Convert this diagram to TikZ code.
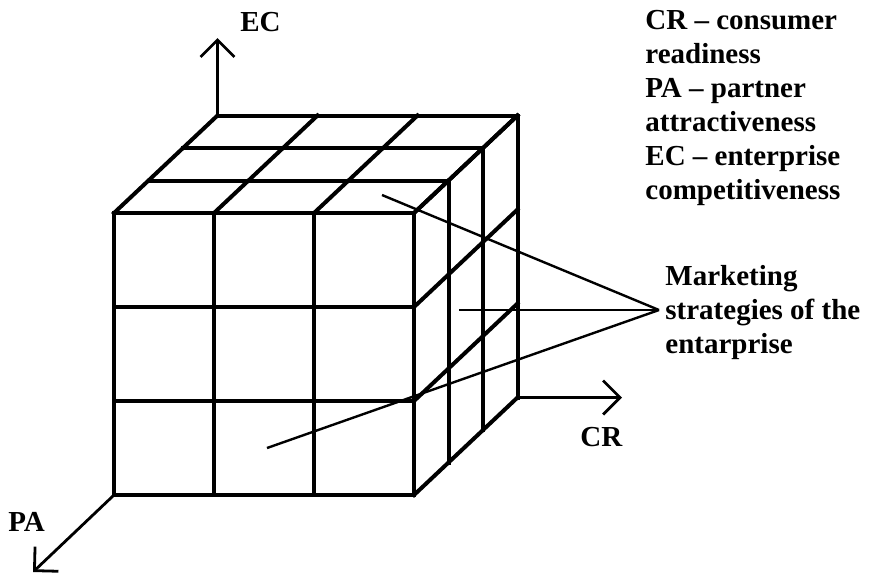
\documentclass[tikz,border=0pt]{standalone}
\usepackage{fontspec}
\setmainfont{Liberation Serif}
\usetikzlibrary{arrows.meta}

\tikzset{
  edge/.style={line width=2pt, line cap=rect},
  axis/.style={line width=1.4pt, -{Straight Barb[length=8.5pt,width=17pt]}},
  pointer/.style={line width=1.2pt},
  lbl/.style={inner sep=0pt, anchor=north west, align=left}
}

\begin{document}
\begin{tikzpicture}[x=0.5pt, y=-0.5pt, font=\fontsize{14.5}{17}\selectfont\bfseries]
  \useasboundingbox (0,0) rectangle (870,575);
  % front face
  \foreach \i in {0,...,3} {
    \draw[edge] (114+100*\i,213) -- (114+100*\i,495);
    \draw[edge] (114,213+94*\i) -- (414,213+94*\i);
  }
  % top face
  \foreach \k in {0,...,3} {
    \draw[edge] (114+100*\k,213) -- (217.5+100*\k,115.5);
    \draw[edge] (114+34.5*\k,213-32.5*\k) -- (414+34.5*\k,213-32.5*\k);
  }
  % right face
  \foreach \k in {0,...,3} {
    \draw[edge] (414,213+94*\k) -- (517.5,115.5+94*\k);
    \draw[edge] (414+34.5*\k,213-32.5*\k) -- (414+34.5*\k,495-32.5*\k);
  }
  % axes
  \coordinate (o1) at (217.5,115.5);
  \coordinate (o2) at (517.5,397.5);
  \coordinate (o3) at (114,495);
  \coordinate (ec) at (217.5,38);
  \coordinate (cr) at (622,397.5);
  \coordinate (pa) at (33,572);
  \draw[axis] (o1) -- (ec);
  \draw[axis] (o2) -- (cr);
  \draw[axis] (o3) -- (pa);
  \node[lbl] (lblEC) at (240,12) {EC};
  \node[lbl] (lblCR) at (580,427) {CR};
  \node[lbl] (lblPA) at (8,512) {PA};
  % legend
  \node[lbl] (legend) at (645,10) {CR -- consumer\\readiness\\PA -- partner\\attractiveness\\EC -- enterprise\\competitiveness};
  % strategies
  \coordinate (tip) at (659,310);
  \coordinate (s1) at (382,195);
  \coordinate (s2) at (459,310);
  \coordinate (s3) at (267,448);
  \draw[pointer] (s1) -- (tip);
  \draw[pointer] (s2) -- (tip);
  \draw[pointer] (s3) -- (tip);
  \node[lbl] (mkt) at (665,265) {Marketing\\strategies of the\\entarprise};
\end{tikzpicture}
\end{document}
